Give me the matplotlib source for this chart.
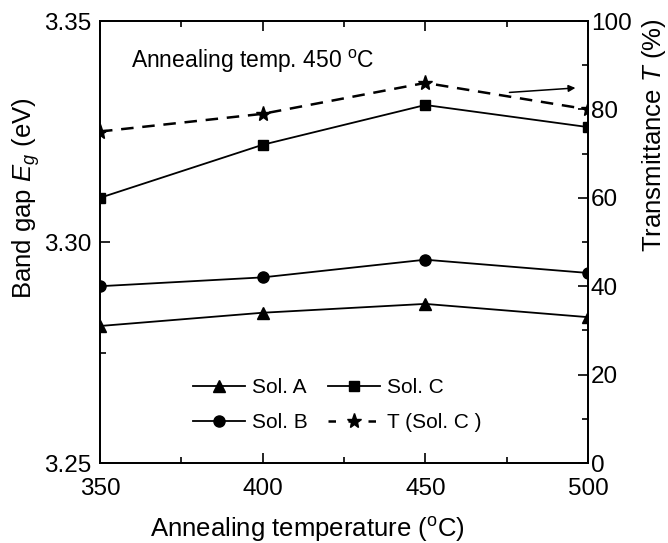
import matplotlib
matplotlib.use('Agg')
import matplotlib.pyplot as plt
from matplotlib.ticker import MultipleLocator
from matplotlib.lines import Line2D

plt.rcParams['font.family'] = ['Liberation Sans', 'DejaVu Sans']
plt.rcParams['mathtext.fontset'] = 'custom'
plt.rcParams['mathtext.rm'] = 'Liberation Sans'
plt.rcParams['mathtext.it'] = 'Liberation Sans:italic'

# data
temps = [350, 400, 450, 500]
eg_sol_a = [3.281, 3.284, 3.286, 3.283]
eg_sol_b = [3.290, 3.292, 3.296, 3.293]
eg_sol_c = [3.310, 3.322, 3.331, 3.326]
trans_sol_c = [75, 79, 86, 80]

fig = plt.figure(figsize=(6.68, 5.43), dpi=100)
ax = fig.add_axes([0.1497, 0.1473, 0.7305, 0.814])
ax2 = ax.twinx()

ax.plot(temps, eg_sol_a, color='black', lw=1.3, marker='^', ms=8.5)
ax.plot(temps, eg_sol_b, color='black', lw=1.3, marker='o', ms=8)
ax.plot(temps, eg_sol_c, color='black', lw=1.3, marker='s', ms=7)
ax2.plot(temps, trans_sol_c, color='black', lw=1.8, ls=(0, (5, 3.5)),
         marker='*', ms=11)

ax.set_xlim(350, 500)
ax.set_ylim(3.25, 3.35)
ax2.set_ylim(0, 100)

ax.xaxis.set_major_locator(MultipleLocator(50))
ax.xaxis.set_minor_locator(MultipleLocator(25))
ax.yaxis.set_major_locator(MultipleLocator(0.05))
ax.yaxis.set_minor_locator(MultipleLocator(0.025))
ax2.yaxis.set_major_locator(MultipleLocator(20))
ax2.yaxis.set_minor_locator(MultipleLocator(10))
ax.yaxis.set_major_formatter(plt.FormatStrFormatter('%.2f'))

ax.tick_params(axis='x', which='both', direction='in', top=True, labelsize=17.5, pad=11, width=1.2)
ax.tick_params(axis='y', which='both', direction='in', labelsize=17.5, pad=6, width=1.2)
ax2.tick_params(axis='y', which='both', direction='in', labelsize=17.5, pad=2, width=1.2)
for a in (ax, ax2):
    a.tick_params(which='major', length=7)
    a.tick_params(which='minor', length=4.5)
    for s in a.spines.values():
        s.set_linewidth(1.3)

ax.text(359.5, 3.3408, 'Annealing temp. 450 $^{\\mathrm{o}}$C', fontsize=16.5, va='center')
ax.annotate('', xy=(497, 3.3349), xytext=(475, 3.3338),
            arrowprops=dict(arrowstyle='-|>', color='black', lw=1.1, mutation_scale=10))

fig.text(307 / 668, 1 - 530 / 543, 'Annealing temperature ($^{\\mathrm{o}}$C)',
         fontsize=18.5, ha='center', va='center')
fig.text(26 / 668, 1 - 198 / 543, 'Band gap $E_g$ (eV)', fontsize=18.5,
         rotation=90, ha='center', va='center')
fig.text(654 / 668, 1 - 135 / 543, 'Transmittance $T$ (%)', fontsize=18.5,
         rotation=90, ha='center', va='center')

handles = [
    Line2D([], [], color='black', lw=1.3, marker='^', ms=8.5),
    Line2D([], [], color='black', lw=1.3, marker='o', ms=8),
    Line2D([], [], color='black', lw=1.3, marker='s', ms=7),
    Line2D([], [], color='black', lw=1.8, ls=(0, (3, 5)), marker='*', ms=11),
]
labels = ['Sol. A', 'Sol. B', 'Sol. C', 'T (Sol. C )']
ax.legend(handles, labels, ncol=2, frameon=False, fontsize=15, loc='center',
          bbox_to_anchor=(0.486, 0.131), handlelength=2.5, handletextpad=0.3,
          columnspacing=1.0, labelspacing=0.75)

fig.savefig('out.png', dpi=100)
